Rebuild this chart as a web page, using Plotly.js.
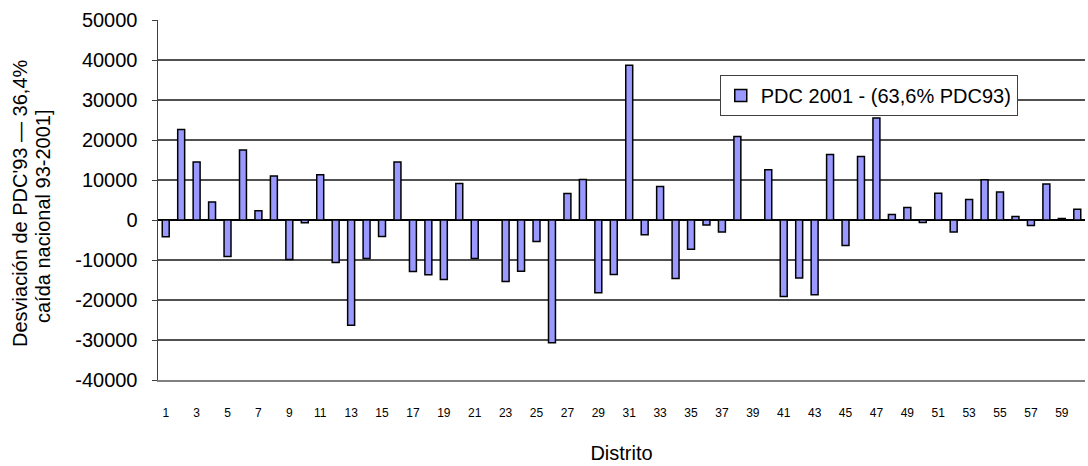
<!DOCTYPE html>
<html>
<head>
<meta charset="utf-8">
<script src="https://cdn.plot.ly/plotly-3.0.1.min.js"></script>
<style>
  html, body { margin: 0; padding: 0; background: #ffffff; }
  #chart { width: 1088px; height: 466px; }
</style>
</head>
<body>
<div id="chart"></div>
<script>
// District numbers (1..60)
const districts = [
  1, 2, 3, 4, 5, 6, 7, 8, 9, 10,
  11, 12, 13, 14, 15, 16, 17, 18, 19, 20,
  21, 22, 23, 24, 25, 26, 27, 28, 29, 30,
  31, 32, 33, 34, 35, 36, 37, 38, 39, 40,
  41, 42, 43, 44, 45, 46, 47, 48, 49, 50,
  51, 52, 53, 54, 55, 56, 57, 58, 59, 60
];

// Deviation of PDC 2001 from 63.6% of PDC'93 per district (null = no data)
const deviation = [
  -4200, 22600, 14500, 4500, -9100, 17500, 2300, 11000, -9900, -700,
  11300, -10600, -26300, -9600, -4100, 14500, -12900, -13700, -14900, 9100,
  -9600, null, -15400, -12800, -5400, -30700, 6650, 10100, -18200, -13600,
  38700, -3700, 8400, -14600, -7300, -1250, -3000, 20900, null, 12550,
  -19100, -14500, -18700, 16400, -6400, 15900, 25500, 1400, 3150, -600,
  6700, -3000, 5100, 10050, 7000, 900, -1400, 9000, 400, 2700
];

// Value-axis ticks and their labels (plain hyphen for negatives)
const yTickValues = [-40000, -30000, -20000, -10000, 0, 10000, 20000, 30000, 40000, 50000];
const yTickLabels = ['-40000', '-30000', '-20000', '-10000', '0', '10000', '20000', '30000', '40000', '50000'];

const seriesName = 'PDC 2001 - (63,6% PDC93)';
const xTitle = 'Distrito';
const yTitleLine1 = "Desviación de PDC'93 — 36,4%";
const yTitleLine2 = 'caída nacional 93-2001]';

// Every second district gets a label on the category axis
const labelDistricts = districts.filter(d => d % 2 === 1);

const font = 'Arial, "Liberation Sans", sans-serif';

const trace = {
  type: 'bar',
  x: districts,
  y: deviation,
  name: seriesName,
  marker: { color: '#9999ff', line: { color: '#000000', width: 1.5 } },
  hoverinfo: 'x+y'
};

const layout = {
  width: 1088,
  height: 466,
  margin: { l: 158, r: 3, t: 20, b: 86 },
  paper_bgcolor: '#ffffff',
  plot_bgcolor: '#ffffff',
  bargap: 0.55,
  showlegend: true,
  font: { family: font, color: '#000000' },
  xaxis: {
    range: [0.5, 60.5],
    tickmode: 'array',
    tickvals: labelDistricts,
    ticktext: labelDistricts.map(String),
    tickfont: { family: font, size: 12, color: '#000000' },
    ticks: '',
    ticklabelstandoff: 21,
    showgrid: false,
    zeroline: false,
    showline: true,
    linecolor: '#808080',
    linewidth: 1.5,
    title: { text: xTitle, font: { family: font, size: 20, color: '#000000' }, standoff: 27 }
  },
  yaxis: {
    range: [-40000, 50000],
    tickmode: 'array',
    tickvals: yTickValues,
    ticktext: yTickLabels,
    tickfont: { family: font, size: 20, color: '#000000' },
    ticks: 'outside',
    ticklen: 5,
    tickcolor: '#404040',
    ticklabelstandoff: 10,
    showgrid: true,
    gridcolor: '#505050',
    gridwidth: 1.2,
    zeroline: true,
    zerolinecolor: '#000000',
    zerolinewidth: 1.2,
    showline: true,
    linecolor: '#404040',
    linewidth: 1.5
  },
  legend: {
    x: 0.606,
    y: 0.847,
    xanchor: 'left',
    yanchor: 'top',
    bgcolor: '#ffffff',
    bordercolor: '#404040',
    borderwidth: 1,
    font: { family: font, size: 20, color: '#000000' }
  },
  annotations: [
    {
      text: yTitleLine1,
      xref: 'paper', yref: 'paper',
      x: (20 - 158) / 927, y: (380 - 203) / 360,
      xanchor: 'center', yanchor: 'middle',
      textangle: -90, showarrow: false,
      font: { family: font, size: 20, color: '#000000' }
    },
    {
      text: yTitleLine2,
      xref: 'paper', yref: 'paper',
      x: (43 - 158) / 927, y: (380 - 216) / 360,
      xanchor: 'center', yanchor: 'middle',
      textangle: -90, showarrow: false,
      font: { family: font, size: 20, color: '#000000' }
    }
  ]
};

Plotly.newPlot('chart', [trace], layout, { displayModeBar: false, staticPlot: true });
</script>
</body>
</html>
